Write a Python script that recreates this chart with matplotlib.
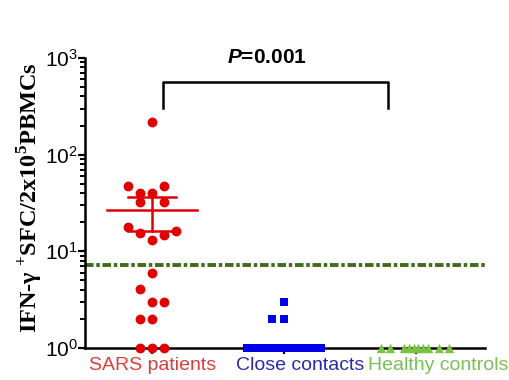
import matplotlib.pyplot as plt
import matplotlib.transforms as mtransforms
import numpy as np

plt.rcParams['font.family'] = ['Liberation Sans', 'DejaVu Sans']
plt.rcParams['mathtext.fontset'] = 'custom'
plt.rcParams['mathtext.rm'] = 'Liberation Serif:bold'
plt.rcParams['mathtext.it'] = 'Liberation Sans:italic:bold'

groups = ["SARS patients", "Close contacts", "Healthy controls"]

sars = [219, 47, 47, 40, 40, 32, 32, 17.7, 15.5, 13.1, 14.7, 16.3,
        5.9, 4.05, 3.0, 3.0, 2.0, 2.0, 1.0, 1.0, 1.0]
contacts = [3.0, 2.0, 2.0] + [1.0] * 13
healthy = [1.0] * 10

cutoff = 7.2
p_text = "=0.001"

# horizontal spread of the dots (in x units), same order as values
sars_dx = [0, -0.18, 0.09, -0.09, 0, -0.09, 0.09, -0.18, -0.09, 0, 0.09, 0.18,
           0, -0.09, 0, 0.09, -0.09, 0, -0.09, 0, 0.09]
contacts_dx = [0.0, -0.095, 0.0] + list(np.linspace(-0.28, 0.28, 13))
healthy_dx = [-0.27, -0.2, -0.096, -0.058, -0.02, 0.017, 0.055, 0.093, 0.17, 0.245]

red = '#e00000'
blue = '#0000e8'
lgreen = '#7cc242'
dgreen = '#3c6e1e'

fig = plt.figure(figsize=(5.1, 3.8), dpi=100)
ax = fig.add_axes((0.1667, 0.0842, 0.784, 0.7632))

ax.scatter(np.array(sars_dx) + 0, sars, s=50, color=red, marker='o',
           clip_on=False, zorder=3, linewidths=0)
ax.scatter(np.array(contacts_dx) + 1, contacts, s=40, color=blue, marker='s',
           clip_on=False, zorder=3, linewidths=0)
ax.scatter(np.array(healthy_dx) + 2, healthy, s=45, color=lgreen, marker='^',
           clip_on=False, zorder=3, linewidths=0)

# mean and SEM for SARS patients
m = np.mean(sars)
sem = np.std(sars, ddof=1) / np.sqrt(len(sars))
ax.plot([-0.34, 0.34], [m, m], color=red, lw=1.8, zorder=2)
ax.plot([0, 0], [m - sem, m + sem], color=red, lw=1.8, zorder=2)
ax.plot([-0.18, 0.18], [m + sem, m + sem], color=red, lw=1.8, zorder=2)
ax.plot([-0.18, 0.18], [m - sem, m - sem], color=red, lw=1.8, zorder=2)

# cutoff line
ax.axhline(cutoff, color=dgreen, lw=2.8, ls=(0, (2.2, 0.7, 0.9, 0.7)), zorder=1)

# significance bracket
ax.plot([0.083, 0.083, 1.79, 1.79], [302, 562, 562, 302], color='black',
        lw=1.8, clip_on=False)
ax.text(0.87, 1000, "$P$" + p_text, ha='center', va='center', fontsize=15,
        fontweight='bold', clip_on=False)

ax.set_yscale('log')
ax.set_ylim(1, 1000)
ax.set_xlim(-0.508, 2.52)

ax.set_xticks([0, 1, 2])
ax.set_xticklabels([])
trans = mtransforms.blended_transform_factory(ax.transData, ax.transAxes)
for i, (g, c, dx) in enumerate(zip(groups, ['#d8403c', '#2a2aa8', '#7abf55'],
                                   [0, 0.12, 0.166])):
    ax.text(i + dx, -0.059, g, transform=trans, ha='center', va='center',
            fontsize=14, color=c, clip_on=False)

ax.tick_params(axis='x', length=4, width=1.6, pad=2)
ax.tick_params(axis='y', which='major', length=5, width=1.6, labelsize=15, pad=0)
ax.tick_params(axis='y', which='minor', length=3.5, width=1.4)

for s in ['top', 'right']:
    ax.spines[s].set_visible(False)
for s in ['left', 'bottom']:
    ax.spines[s].set_linewidth(1.8)

fig.text(0.058, 0.479, "IFN-\u03b3 $^{+}$SFC/2x10$^{5}$PBMCs", rotation=90,
         ha='center', va='center', fontsize=17.5, fontweight='bold',
         family=['Liberation Serif', 'DejaVu Serif'])

plt.savefig('out.png', dpi=100)
